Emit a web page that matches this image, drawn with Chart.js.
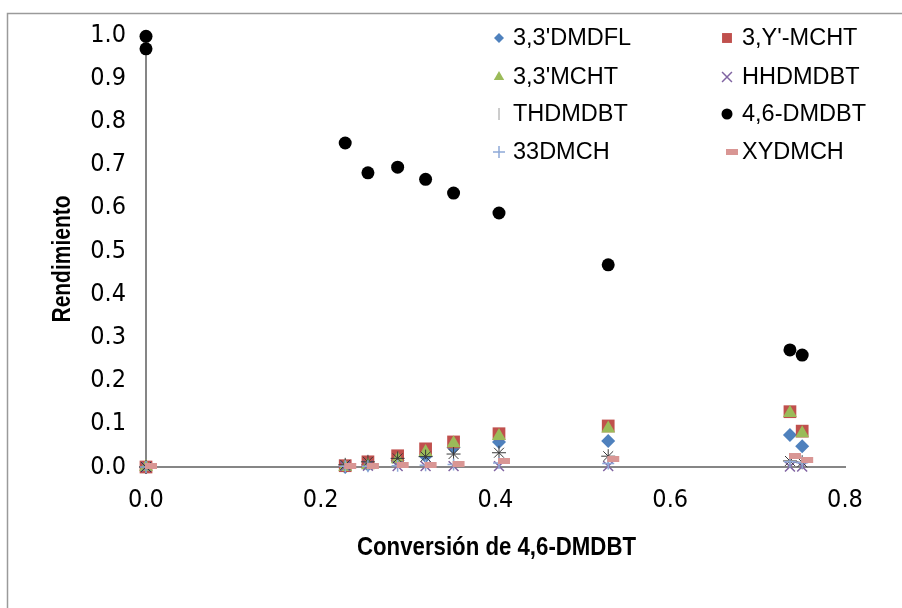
<!DOCTYPE html>
<html>
<head>
<meta charset="utf-8">
<script src="https://cdn.jsdelivr.net/npm/chart.js@4.4.1/dist/chart.umd.min.js"></script>
<style>
  html, body { margin: 0; padding: 0; background: #fff; }
  #wrap { width: 902px; height: 608px; }
</style>
</head>
<body>
<div id="wrap"><canvas id="rendChart" width="902" height="608"></canvas></div>
<script>
// Conversion de 4,6-DMDBT (eje x)
const conversion = [0, 0.228, 0.254, 0.288, 0.320, 0.352, 0.404, 0.529, 0.737, 0.751];
const conversion46 = [0, 0, 0.228, 0.254, 0.288, 0.320, 0.352, 0.404, 0.529, 0.737, 0.751];

// Rendimientos de cada producto
const dmdfl33 = [0, 0, 0.005, 0.015, 0.025, 0.045, 0.058, 0.060, 0.074, 0.048];
const ymcht3 = [0, 0.003, 0.012, 0.026, 0.042, 0.058, 0.077, 0.095, 0.128, 0.083];
const mcht33 = [0, 0, 0.004, 0.018, 0.035, 0.055, 0.072, 0.089, 0.125, 0.078];
const hhdmdbt = [0, 0.002, 0.003, 0.002, 0.002, 0.002, 0.002, 0.002, 0.001, 0.001];
const thdmdbt = [0, 0.005, 0.012, 0.020, 0.024, 0.030, 0.033, 0.025, 0.014, 0.011];
const dmdbt46 = [0.997, 0.968, 0.750, 0.681, 0.694, 0.666, 0.634, 0.588, 0.468, 0.271, 0.259];
const dmch33 = [0, 0.002, 0.002, 0.003, 0.004, 0.006, 0.009, 0.008, 0.012, 0.010];
const xydmch = [0.002, 0.002, 0.002, 0.004, 0.004, 0.008, 0.014, 0.018, 0.025, 0.016];

const xTicks = [0, 0.2, 0.4, 0.6, 0.8];
const xTitle = 'Conversión de 4,6-DMDBT';
const yTitle = 'Rendimiento';

// guion rosa (marcador de XYDMCH), un poco corrido a la derecha como en Excel
function dashMarker(color) {
    const c = document.createElement('canvas');
    c.width = 26; c.height = 6;
    const g = c.getContext('2d');
    g.fillStyle = color;
    g.fillRect(12, 0, 12, 6);
    return c;
}

const pts = (xs, ys) => ys.map((y, i) => ({ x: xs[i], y: y }));

const series = [
    { label: "3,3'DMDFL", xs: conversion, ys: dmdfl33, color: '#4F81BD', style: 'rectRot', r: 7, lr: 5, bw: 0 },
    { label: "3,Y'-MCHT", xs: conversion, ys: ymcht3, color: '#C0504D', style: 'rect', r: 9, lr: 7, bw: 0 },
    { label: "3,3'MCHT", xs: conversion, ys: mcht33, color: '#9BBB59', style: 'triangle', r: 8, lr: 6, bw: 0 },
    { label: 'HHDMDBT', xs: conversion, ys: hhdmdbt, color: '#8064A2', style: 'crossRot', r: 7, lr: 7, bw: 1.5 },
    { label: 'THDMDBT', xs: conversion, ys: thdmdbt, color: '#3a3a3a', style: 'star', r: 7, lr: 6, bw: 1, legendStyle: 'line', legendRot: 90, legendColor: '#9a9a9a' },
    { label: '4,6-DMDBT', xs: conversion46, ys: dmdbt46, color: '#000000', style: 'circle', r: 6.5, lr: 5.5, bw: 0 },
    { label: '33DMCH', xs: conversion, ys: dmch33, color: '#8EA9D8', style: 'cross', r: 6, lr: 6, bw: 1.5 },
    { label: 'XYDMCH', xs: conversion, ys: xydmch, color: '#D99694', style: dashMarker('#D99694'), r: 6, lr: 6, bw: 0 }
];

const datasets = series.map((s, i) => ({
    label: s.label,
    data: pts(s.xs, s.ys),
    pointStyle: s.style,
    pointRadius: s.r,
    pointHoverRadius: s.r,
    backgroundColor: s.color,
    borderColor: s.color,
    pointBorderWidth: s.bw,
    showLine: false,
    clip: false,
    order: 20 - i // series posteriores encima
}));

const tickFont = { family: "'Liberation Sans Narrow', 'Arial Narrow', 'DejaVu Sans Condensed', sans-serif", size: 25 };

// fondo y marco exterior
const frame = {
    id: 'frame',
    beforeDraw(chart) {
        const ctx = chart.ctx;
        ctx.save();
        ctx.fillStyle = '#fff';
        ctx.fillRect(0, 0, chart.width, chart.height);
        ctx.strokeStyle = '#9a9a9a';
        ctx.lineWidth = 1.5;
        ctx.strokeRect(7.5, 13.5, 2000, 2000);
        ctx.restore();
    }
};

// titulos de ejes en negrita estrecha
function narrowText(ctx, text, x, y, width, rot) {
    ctx.save();
    ctx.translate(x, y);
    ctx.rotate(rot);
    const w = ctx.measureText(text).width;
    ctx.scale(width / w, 1);
    ctx.fillText(text, 0, 0);
    ctx.restore();
}

const axisTitles = {
    id: 'axisTitles',
    afterDraw(chart) {
        const ctx = chart.ctx;
        const a = chart.chartArea;
        ctx.save();
        ctx.font = "bold 25px 'Liberation Sans', Arial, sans-serif";
        ctx.fillStyle = '#000';
        ctx.textAlign = 'center';
        ctx.textBaseline = 'middle';
        narrowText(ctx, xTitle, (a.left + a.right) / 2 + 1, 548, 279, 0);
        narrowText(ctx, yTitle, 63, 259, 127, -Math.PI / 2);
        ctx.restore();
    }
};

// leyenda en dos columnas dentro del area de trazado
const legend2col = {
    id: 'legend2col',
    afterDraw(chart) {
        const ctx = chart.ctx;
        const colMarker = [499, 727];
        const colText = [513, 742];
        const rowY = [38, 77, 114, 152];
        ctx.save();
        ctx.font = "23.5px 'Liberation Sans', Arial, sans-serif";
        ctx.textBaseline = 'middle';
        series.forEach((s, i) => {
            const col = i % 2, row = Math.floor(i / 2);
            const color = s.legendColor || s.color;
            ctx.fillStyle = color;
            ctx.strokeStyle = color;
            ctx.lineWidth = s.bw || 1;
            Chart.helpers.drawPoint(ctx, {
                pointStyle: s.legendStyle || s.style,
                rotation: s.legendRot || 0,
                radius: s.lr,
                borderWidth: s.bw || (s.legendStyle ? 1.5 : 0)
            }, colMarker[col], rowY[row]);
            ctx.fillStyle = '#000';
            ctx.fillText(s.label, colText[col], rowY[row] + 1);
        });
        ctx.restore();
    }
};

new Chart(document.getElementById('rendChart'), {
    type: 'scatter',
    data: { datasets: datasets },
    options: {
        responsive: false,
        animation: false,
        events: [],
        layout: { padding: { top: 35, right: 57, bottom: 0, left: 0 } },
        plugins: { legend: { display: false }, tooltip: { enabled: false } },
        scales: {
            x: {
                type: 'linear',
                min: 0,
                max: 0.8,
                afterBuildTicks: s => { s.ticks = xTicks.map(v => ({ value: v })); },
                afterFit: s => { s.height = 141; s.paddingLeft = 0; s.paddingRight = 0; },
                grid: { display: false, drawTicks: false },
                border: { display: true, color: '#868686', width: 2 },
                ticks: { color: '#000', font: tickFont, padding: 18, maxRotation: 0, callback: v => Number(v).toFixed(1) }
            },
            y: {
                type: 'linear',
                min: 0,
                max: 1,
                ticks: { stepSize: 0.1, color: '#000', font: tickFont, padding: 20, callback: v => Number(v).toFixed(1) },
                afterFit: s => { s.width = 146; s.paddingTop = 0; s.paddingBottom = 0; },
                grid: { display: false, drawTicks: false },
                border: { display: true, color: '#868686', width: 2 }
            }
        }
    },
    plugins: [frame, axisTitles, legend2col]
});
</script>
</body>
</html>
